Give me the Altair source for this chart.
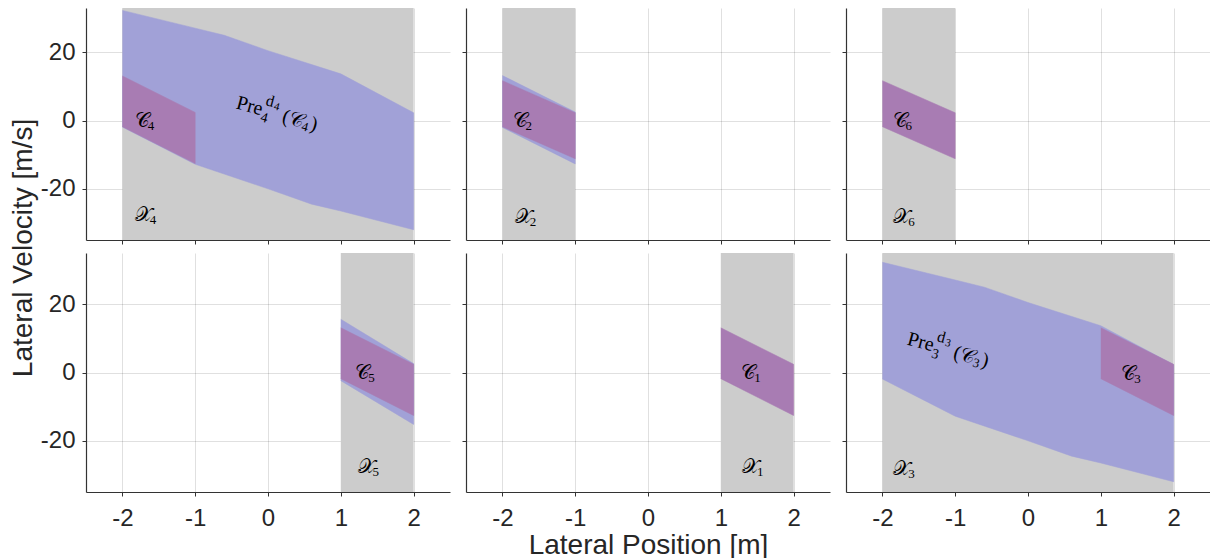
import altair as alt
import pandas as pd

# ---------------- data ----------------
x_ticks = [-2, -1, 0, 1, 2]
y_ticks = [-20, 0, 20]

# large pre-image sets Pre_4^{d4}(C4) and Pre_3^{d3}(C3) (boundary vertices)
pre_big_x = [-2, -1, -0.6, 0, 1, 2, 2, 1, 0.6, 0, -1, -2]
pre_big_y = [32.3, 27.1, 25.0, 20.5, 13.7, 2.3, -32.0, -26.5, -24.5, -20.0, -12.8, -1.9]

# thin pre-image sets behind C2 and C5
pre2_x = [-2, -1, -1, -2]
pre2_y = [13.2, 2.5, -12.7, -2.0]
pre5_x = [1, 2, 2, 1]
pre5_y = [15.6, 2.6, -15.2, -2.4]

# target cells C_i
cell_left_x = [-2, -1, -1, -2]
cell_right_x = [1, 2, 2, 1]
cell_y = [13.1, 2.4, -12.6, -1.8]
cell_small_y = [11.7, 2.3, -11.2, -1.8]

# regions X_i (lower / upper lateral position)
panel_ids = [4, 2, 6, 5, 1, 3]
region_lo = [-2, -2, -2, 1, 1, -2]
region_hi = [2, -1, -1, 2, 2, 2]

pre_sets = {4: (pre_big_x, pre_big_y), 2: (pre2_x, pre2_y), 5: (pre5_x, pre5_y), 3: (pre_big_x, pre_big_y)}
cell_sets = {4: (cell_left_x, cell_y), 2: (cell_left_x, cell_small_y), 6: (cell_left_x, cell_small_y),
             5: (cell_right_x, cell_y), 1: (cell_right_x, cell_y), 3: (cell_right_x, cell_y)}

# annotation anchors (data coordinates)
c_label_pos = {4: (-1.83, 0), 2: (-1.86, -0.2), 6: (-1.86, -0.2), 5: (1.2, 0), 1: (1.28, 0), 3: (1.28, -0.4)}
x_label_pos = {4: (-1.83, -27.8), 2: (-1.83, -28.3), 6: (-1.85, -28.3), 5: (1.23, -27.8), 1: (1.29, -27.8), 3: (-1.85, -28.3)}
pre_label_pos = {4: (-0.43, 5.3), 3: (-1.65, 9.9)}

x_title = "Lateral Position [m]"
y_title = "Lateral Velocity [m/s]"

# ---------------- styles ----------------
GRAY = "#cccccc"
BLUE = "#a1a1d7"
PURPLE = "#a87cb3"
TXT = "#262626"
SANS = "Liberation Sans"
SERIF = "Liberation Serif, DejaVu Serif, serif"
PW = 364
PH_TOP = 232
PH_BOT = 239


def text_pieces(anchor, pieces, angle=0):
    out = []
    df = pd.DataFrame({"x": [anchor[0]], "y": [anchor[1]]})
    for t, dx, dy, size in pieces:
        out.append(
            alt.Chart(df).mark_text(
                text=t, dx=dx, dy=dy, fontSize=size, font=SERIF, align="left",
                baseline="middle", angle=angle, color="black"
            ).encode(x="x:Q", y="y:Q")
        )
    return out


def panel(k, row, col):
    pid = panel_ids[k]
    xscale = alt.Scale(domain=[-2.5, 2.5], nice=False, zero=False)
    yscale = alt.Scale(domain=[-35, 33] if row == 0 else [-35, 35], nice=False, zero=False)
    xaxis = alt.Axis(values=x_ticks, labels=(row == 1), title=(x_title if (row == 1 and col == 1) else None),
                     labelExpr="datum.value + ''")
    yaxis = alt.Axis(values=y_ticks, labels=(col == 0), title=None, labelExpr="datum.value + ''")

    layers = []
    reg = pd.DataFrame({"lo": [region_lo[k]], "hi": [region_hi[k]]})
    layers.append(
        alt.Chart(reg).mark_rect(color=GRAY).encode(
            x=alt.X("lo:Q", scale=xscale, axis=xaxis), x2="hi:Q",
            y=alt.value(0), y2=alt.value("height"))
    )
    if pid in pre_sets:
        px, py = pre_sets[pid]
        d = pd.DataFrame({"x": px, "y": py, "o": list(range(len(px)))})
        layers.append(
            alt.Chart(d).mark_line(fill=BLUE, stroke=BLUE, strokeWidth=0.5).encode(
                x=alt.X("x:Q", scale=xscale, axis=xaxis), y=alt.Y("y:Q", scale=yscale, axis=yaxis), order="o:Q")
        )
    cx, cy = cell_sets[pid]
    d = pd.DataFrame({"x": cx, "y": cy, "o": list(range(len(cx)))})
    layers.append(
        alt.Chart(d).mark_line(fill=PURPLE, stroke=PURPLE, strokeWidth=0.5).encode(
            x=alt.X("x:Q", scale=xscale, axis=xaxis), y=alt.Y("y:Q", scale=yscale, axis=yaxis), order="o:Q")
    )
    s = str(pid)
    layers += text_pieces(c_label_pos[pid], [("\U0001D49E", 0, 0, 20), (s, 13, 5, 13)])
    layers += text_pieces(x_label_pos[pid], [("\U0001D4B3", 0, 0, 20), (s, 15, 5, 13)])
    if pid in pre_label_pos:
        layers += text_pieces(pre_label_pos[pid], [
            ("Pre", 0, 0, 20), ("d", 28, -10, 16), (s, 37, -6, 11), (s, 27, 8, 14),
            ("(", 48, 1, 20), ("\U0001D49E", 55, 1, 20), (s, 69, 6, 13), (")", 77, 1, 20)], angle=15)
    return alt.layer(*layers).properties(width=PW, height=PH_TOP if row == 0 else PH_BOT)


row1 = alt.hconcat(*[panel(k, 0, k) for k in range(3)], spacing=11)
row2 = alt.hconcat(*[panel(k + 3, 1, k) for k in range(3)], spacing=11)
grid = alt.vconcat(row1, row2, spacing=8)

ylab = alt.Chart(pd.DataFrame({"t": [y_title]})).mark_text(
    angle=270, font=SANS, fontSize=28, color=TXT, baseline="middle", align="center"
).encode(x=alt.value(16), y=alt.value(240), text="t:N").properties(width=31, height=483)

chart = alt.hconcat(ylab, grid, spacing=1).properties(
    padding={"left": 0, "top": 0, "right": 0, "bottom": 0}
).configure_view(strokeWidth=0).configure_axis(
    domainColor="#333333", domainWidth=1.2, tickColor="#333333", tickSize=4, tickWidth=1,
    labelFont=SANS, labelFontSize=24, labelColor=TXT, labelPadding=7,
    gridColor="black", gridOpacity=0.12, gridWidth=1, zindex=1,
    titleFont=SANS, titleFontSize=28, titleFontWeight="normal", titleColor=TXT, titlePadding=1
).configure_axisX(labelPadding=10)

chart.save("out.html", embed_options={"renderer": "svg", "actions": False})
